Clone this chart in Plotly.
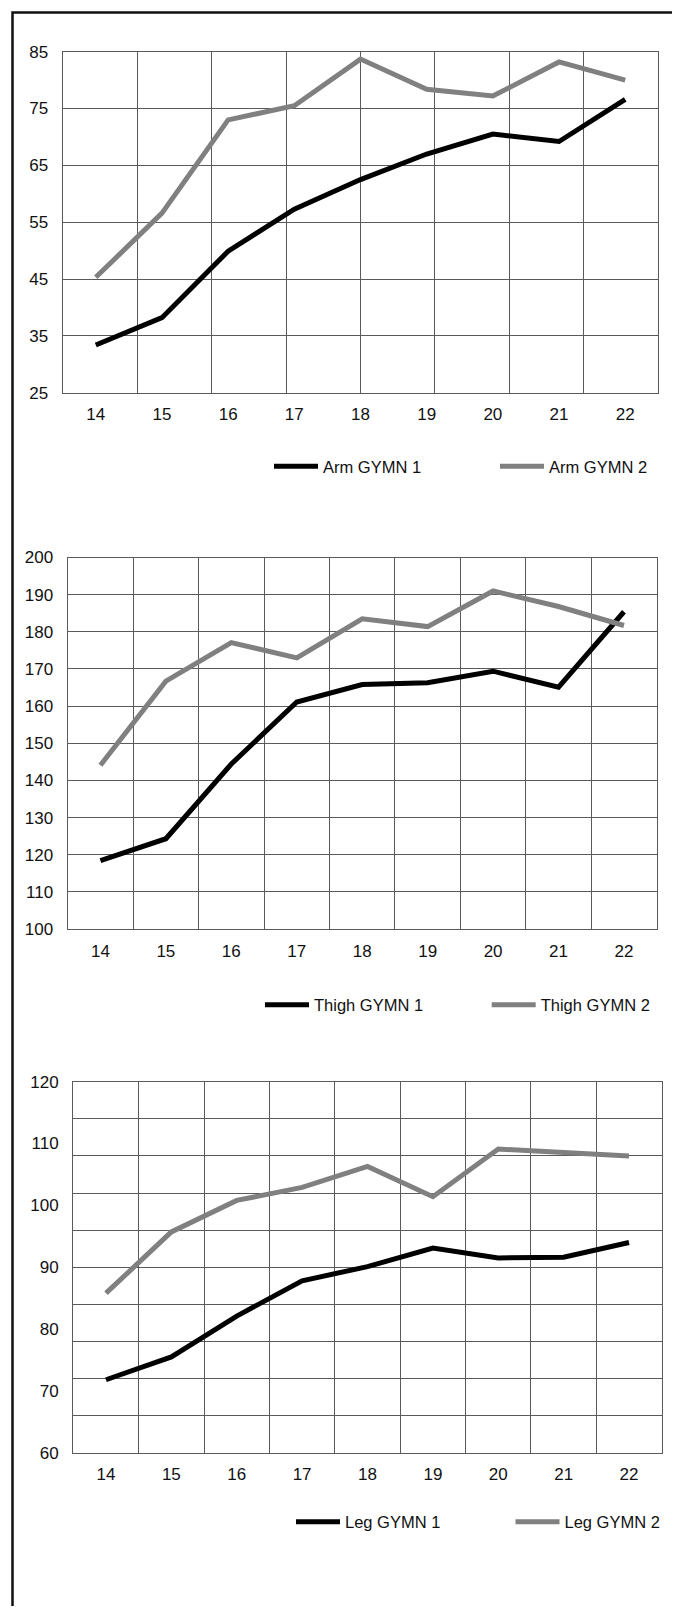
import plotly.graph_objects as go

ages = [14, 15, 16, 17, 18, 19, 20, 21, 22]

arm_g1 = [33.4, 38.2, 49.9, 57.3, 62.5, 67.0, 70.5, 69.2, 76.6]
arm_g2 = [45.3, 56.6, 73.0, 75.5, 83.7, 78.4, 77.2, 83.2, 80.0]

thigh_g1 = [118.4, 124.3, 144.4, 161.1, 165.8, 166.3, 169.4, 165.1, 185.4]
thigh_g2 = [144.1, 166.7, 177.1, 173.0, 183.5, 181.4, 191.0, 186.8, 181.7]

leg_g1 = [71.8, 75.5, 82.1, 87.8, 90.1, 93.1, 91.5, 91.6, 94.0]
leg_g2 = [85.8, 95.7, 100.8, 102.9, 106.3, 101.4, 109.1, 108.5, 108.0]

arm_yticks = [25, 35, 45, 55, 65, 75, 85]
thigh_yticks = list(range(100, 201, 10))
leg_yticks = list(range(60, 121, 10))
leg_ygrid = list(range(60, 121, 6))
arm_xgrid = [13.5 + 1.125 * k for k in range(9)]
cat_xgrid = [13.5 + k for k in range(10)]

# page body has an 8px margin: figure is sized/offset to compensate
OFF = 8
W, H = 672, 1598
BLACK = "#000000"
GREY = "#808080"
GRID = "#5a5a5a"
TICKFONT = dict(family="Liberation Sans, Arial, sans-serif", size=17, color="#111111")
LEGFONT = dict(family="Liberation Sans, Arial, sans-serif", size=16.5, color="#111111")


def px_x(p):
    return (p - OFF) / W


def px_y(p):
    return 1 - (p - OFF) / H


fig = go.Figure()

# Chart 1 - Arm
fig.add_trace(go.Scatter(x=ages, y=arm_g1, name="Arm GYMN 1", mode="lines", legendwidth=167,
                         line=dict(color=BLACK, width=5), xaxis="x", yaxis="y", legend="legend"))
fig.add_trace(go.Scatter(x=ages, y=arm_g2, name="Arm GYMN 2", mode="lines", legendwidth=110,
                         line=dict(color=GREY, width=5), xaxis="x2", yaxis="y", legend="legend"))
# Chart 2 - Thigh
fig.add_trace(go.Scatter(x=ages, y=thigh_g1, name="Thigh GYMN 1", mode="lines", legendwidth=167.7,
                         line=dict(color=BLACK, width=5), xaxis="x3", yaxis="y3", legend="legend2"))
fig.add_trace(go.Scatter(x=ages, y=thigh_g2, name="Thigh GYMN 2", mode="lines", legendwidth=120,
                         line=dict(color=GREY, width=5), xaxis="x3", yaxis="y3", legend="legend2"))
# Chart 3 - Leg
fig.add_trace(go.Scatter(x=ages, y=leg_g1, name="Leg GYMN 1", mode="lines", legendwidth=160.5,
                         line=dict(color=BLACK, width=5), xaxis="x4", yaxis="y4", legend="legend3"))
fig.add_trace(go.Scatter(x=ages, y=leg_g2, name="Leg GYMN 2", mode="lines", legendwidth=100,
                         line=dict(color=GREY, width=5), xaxis="x4", yaxis="y5", legend="legend3"))

axis_common = dict(showline=True, mirror=True, linecolor=GRID, linewidth=1.4,
                   gridcolor=GRID, gridwidth=1.4, zeroline=False, ticks="",
                   tickfont=TICKFONT, fixedrange=True, automargin=False)

d1x = [px_x(62.7), px_x(658.3)]
d1y = [px_y(392.7), px_y(51.7)]
d2x = [px_x(67.7), px_x(656.7)]
d2y = [px_y(929), px_y(557.5)]
d3x = [px_x(73.3), px_x(661.7)]
d3y = [px_y(1452.7), px_y(1081.7)]

xr = [13.5, 22.5]
XSO = 6
YSO = 10

fig.update_layout(
    xaxis=dict(domain=d1x, range=xr, anchor="y", tickvals=ages, showgrid=False,
               ticklabelstandoff=XSO, **axis_common),
    xaxis2=dict(overlaying="x", range=xr, anchor="y", tickvals=arm_xgrid, showgrid=True,
                showticklabels=False, **axis_common),
    yaxis=dict(domain=d1y, range=[25, 85], anchor="x", tickvals=arm_yticks, showgrid=True,
               ticklabelstandoff=YSO, **axis_common),
    xaxis3=dict(domain=d2x, range=xr, anchor="y3", tickvals=ages, showgrid=False,
                minor=dict(tickvals=cat_xgrid, showgrid=True, gridcolor=GRID, gridwidth=1.4, ticks=""),
                ticklabelstandoff=XSO, **axis_common),
    yaxis3=dict(domain=d2y, range=[100, 200], anchor="x3", tickvals=thigh_yticks, showgrid=True,
                ticklabelstandoff=YSO, **axis_common),
    xaxis4=dict(domain=d3x, range=xr, anchor="y4", tickvals=ages, showgrid=False,
                minor=dict(tickvals=cat_xgrid, showgrid=True, gridcolor=GRID, gridwidth=1.4, ticks=""),
                ticklabelstandoff=XSO, **axis_common),
    yaxis4=dict(domain=d3y, range=[60, 120], anchor="x4", tickvals=leg_ygrid, showgrid=True,
                showticklabels=False, **axis_common),
    yaxis5=dict(overlaying="y4", range=[60, 120], anchor="x4", side="left", tickvals=leg_yticks,
                showgrid=False, ticklabelstandoff=YSO, **axis_common),
)

legend_common = dict(orientation="h", xanchor="left", yanchor="middle", font=LEGFONT,
                     bgcolor="rgba(0,0,0,0)", borderwidth=0, entrywidthmode="pixels",
                     itemwidth=44, itemclick=False, itemdoubleclick=False)
fig.update_layout(
    legend=dict(x=px_x(269), y=px_y(466.5), **legend_common),
    legend2=dict(x=px_x(260), y=px_y(1005), **legend_common),
    legend3=dict(x=px_x(291), y=px_y(1522), **legend_common),
)

fig.add_shape(type="rect", xref="paper", yref="paper",
              x0=px_x(12.5), x1=px_x(675), y0=-0.05, y1=px_y(12.5),
              line=dict(color="#111111", width=2.5), layer="above")

fig.update_layout(width=W, height=H, autosize=False,
                  margin=dict(l=0, r=0, t=0, b=0, autoexpand=False),
                  paper_bgcolor="white", plot_bgcolor="white",
                  font=TICKFONT, showlegend=True)

fig.write_html("out.html", config={"displayModeBar": False})
